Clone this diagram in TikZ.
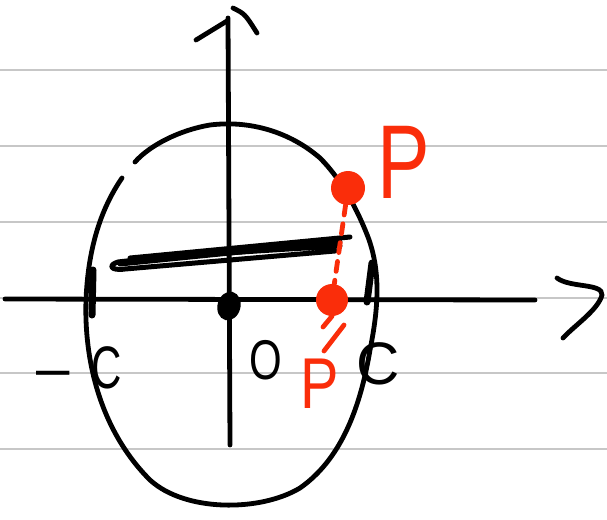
\documentclass[tikz,border=0pt]{standalone}
\usepackage{fontspec}
\usepackage{graphicx}
\setmainfont{Liberation Sans}
\usetikzlibrary{shapes.geometric}
\definecolor{pred}{RGB}{250,45,10}
\begin{document}
\begin{tikzpicture}[x=1pt,y=-1pt,
  ink/.style={line width=4.8pt,line cap=round,line join=round},
  redink/.style={ink,draw=pred},
  rule/.style={draw=black!22,line width=1.4pt},
  lbl/.style={inner sep=0pt,font=\fontsize{60}{60}\selectfont},
  plbl/.style={inner sep=0pt,text=pred},
  rdot/.style={circle,fill=pred,inner sep=0pt}]
\useasboundingbox[fill=white] (0,0) rectangle (607,519);
% ruled paper lines
\foreach \y in {70,146,222,298,373,449} \draw[rule] (0,\y) -- (607,\y);
% axes
\coordinate (xa) at (5,299);
\coordinate (xb) at (535,300);
\coordinate (ya) at (230,445);
\coordinate (yb) at (228,18);
\draw[ink] (xa) -- (xb);
\draw[ink] (ya) -- (yb);
% arrow heads
\draw[ink] (196,40) -- (227,21);
\draw[ink] (233,8) .. controls (245,14) .. (257,33);
\draw[ink] (557,278) .. controls (570,288) and (603,283) .. (602,295) .. controls (598,310) and (575,325) .. (563,338);
% circle
\draw[ink] (122,178) .. controls (100,210) and (88,250) .. (86,300)
  .. controls (84,360) and (100,430) .. (150,480)
  .. controls (185,512) and (260,512) .. (300,488)
  .. controls (340,460) and (360,410) .. (370,350)
  .. controls (378,310) and (382,270) .. (366,232)
  .. controls (355,205) and (340,178) .. (320,158)
  .. controls (290,132) and (250,120) .. (210,125)
  .. controls (180,130) and (150,145) .. (135,162);
% ticks at -c and c
\draw[ink,line width=7pt] (93,270) -- (92,315);
\draw[ink,line width=7pt] (372,263) -- (367,302);
% chord scribble
\draw[ink,line width=5pt] (130,258) -- (350,237);
\draw[ink,line width=5pt] (340,246) .. controls (250,251) and (150,258) .. (118,262)
  .. controls (108,265) and (110,271) .. (125,269) -- (335,251);
\draw[ink,line width=5pt] (120,264) -- (340,242);
% origin
\node[fill=black,ellipse,minimum width=23pt,minimum height=29pt,inner sep=0pt,rotate=-15] (o) at (229,306) {};
% labels
\node[lbl,anchor=west] (negc) at (36,368) {–\hspace{22pt}\scalebox{0.7}[1]{C}};
\node[lbl,font=\fontsize{56}{56}\selectfont] (olab) at (266,360) {\scalebox{0.75}[1]{O}};
\node[lbl] (cpos) at (378,364) {C};
% red points
\node[rdot,minimum size=34pt] (p) at (348,188) {};
\node[rdot,minimum size=32pt] (pp) at (332,300) {};
\draw[redink,dash pattern=on 10pt off 9pt] (p) -- (pp);
\draw[redink] (pp.south) -- (323,327);
\draw[redink] (344,325) -- (324,351);
\node[plbl,font=\fontsize{105}{105}\selectfont] (plab) at (404,162) {\scalebox{0.75}[1]{P}};
\node[plbl,font=\fontsize{72}{72}\selectfont] (pplab) at (320,384) {\scalebox{0.8}[1]{P}};
\end{tikzpicture}
\end{document}
